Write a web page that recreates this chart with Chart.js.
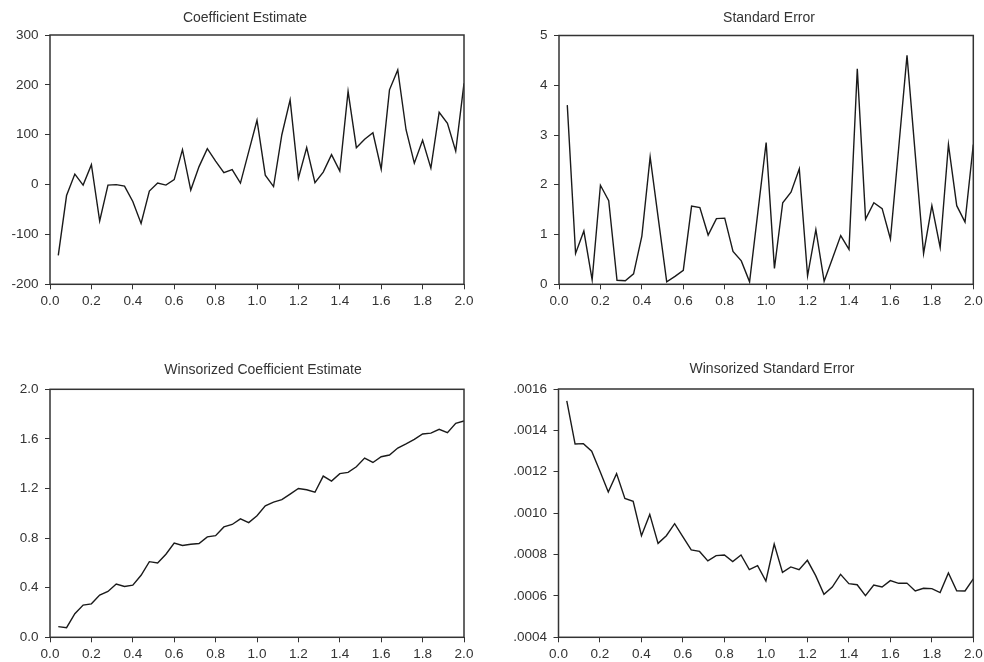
<!DOCTYPE html>
<html>
<head>
<meta charset="utf-8">
<script src="https://cdn.jsdelivr.net/npm/chart.js@4.4.0/dist/chart.umd.min.js"></script>
<style>
  body { margin: 0; background: #fff; overflow: hidden; width: 984px; height: 662px; position: relative; }
  canvas { position: absolute; }
</style>
</head>
<body>
<canvas id="c1" width="492" height="331" style="left:0;top:0"></canvas>
<canvas id="c2" width="520" height="331" style="left:492px;top:0"></canvas>
<canvas id="c3" width="492" height="331" style="left:0;top:331px"></canvas>
<canvas id="c4" width="520" height="331" style="left:492px;top:331px"></canvas>
<script>
// x positions (threshold) shared by all four panels
const xValues = [0.04, 0.08, 0.12, 0.16, 0.20, 0.24, 0.28, 0.32, 0.36, 0.40,
                 0.44, 0.48, 0.52, 0.56, 0.60, 0.64, 0.68, 0.72, 0.76, 0.80,
                 0.84, 0.88, 0.92, 0.96, 1.00, 1.04, 1.08, 1.12, 1.16, 1.20,
                 1.24, 1.28, 1.32, 1.36, 1.40, 1.44, 1.48, 1.52, 1.56, 1.60,
                 1.64, 1.68, 1.72, 1.76, 1.80, 1.84, 1.88, 1.92, 1.96, 2.00];

const coefEstimate = [-142, -22, 21, -1, 40, -73, -1, 0, -3, -34,
                      -78, -13, 3, -1, 10, 70, -11, 36, 72, 47,
                      24, 30, 3, 66, 129, 19, -4, 100, 170, 13,
                      74, 4, 25, 60, 27, 187, 74, 91, 104, 31,
                      190, 230, 110, 43, 89, 33, 145, 123, 67, 203];

const stdError = [3.60, 0.62, 1.07, 0.09, 1.99, 1.68, 0.08, 0.07, 0.21, 0.97,
                  2.56, 1.30, 0.05, 0.16, 0.28, 1.57, 1.54, 0.99, 1.32, 1.33,
                  0.66, 0.47, 0.05, 1.45, 2.85, 0.32, 1.64, 1.85, 2.32, 0.17,
                  1.10, 0.06, 0.52, 0.98, 0.70, 4.33, 1.31, 1.64, 1.52, 0.91,
                  2.75, 4.60, 2.60, 0.62, 1.58, 0.74, 2.81, 1.58, 1.25, 2.81];

const winCoef = [0.086, 0.078, 0.19, 0.26, 0.27, 0.34, 0.37, 0.43, 0.41, 0.42,
                 0.50, 0.61, 0.60, 0.67, 0.76, 0.74, 0.75, 0.756, 0.81, 0.82,
                 0.89, 0.91, 0.955, 0.925, 0.98, 1.06, 1.09, 1.11, 1.155, 1.20,
                 1.19, 1.17, 1.30, 1.26, 1.32, 1.33, 1.375, 1.445, 1.41, 1.456,
                 1.47, 1.526, 1.56, 1.596, 1.64, 1.647, 1.677, 1.65, 1.725, 1.744];

const winStdErr = [0.001543, 0.001334, 0.001336, 0.001299, 0.001202, 0.001102, 0.001191, 0.001071, 0.001057, 0.000891,
                   0.000994, 0.000854, 0.000891, 0.000949, 0.000885, 0.000822, 0.000815, 0.000769, 0.000795, 0.000798,
                   0.000766, 0.000798, 0.000727, 0.000746, 0.000672, 0.000851, 0.000714, 0.000740, 0.000727, 0.000772,
                   0.000698, 0.000608, 0.000643, 0.000704, 0.000659, 0.000654, 0.000601, 0.000653, 0.000643, 0.000674,
                   0.000661, 0.000662, 0.000624, 0.000637, 0.000635, 0.000616, 0.000711, 0.000625, 0.000624, 0.000682];

const textColor = '#333';
const fontFamily = '"Liberation Sans", Arial, sans-serif';

// draws the panel title and the box around the plot area
const panelDecor = {
    id: 'panelDecor',
    afterDatasetsDraw(chart, args, opts) {
        const ctx = chart.ctx;
        const a = chart.chartArea;
        ctx.save();
        ctx.strokeStyle = '#333';
        ctx.lineWidth = 1.5;
        ctx.strokeRect(a.left, a.top, a.right - a.left, a.bottom - a.top);
        ctx.fillStyle = textColor;
        ctx.font = '14px ' + fontFamily;
        ctx.textAlign = 'center';
        ctx.textBaseline = 'middle';
        ctx.fillText(opts.text, opts.x, opts.y);
        ctx.restore();
    }
};

function makePanel(id, title, values, yMin, yMax, yStep, yFormat, box) {
    const canvas = document.getElementById(id);
    const W = canvas.width, H = canvas.height;
    const tickFont = { family: fontFamily, size: 13.5 };

    return new Chart(canvas, {
        type: 'line',
        data: {
            datasets: [{
                data: xValues.map((x, i) => ({ x: x, y: values[i] })),
                borderColor: '#1a1a1a',
                borderWidth: 1.4,
                pointRadius: 0,
                tension: 0,
                fill: false
            }]
        },
        options: {
            responsive: false,
            animation: false,
            layout: { padding: { left: 0, top: box.top, right: W - box.right, bottom: 0 } },
            plugins: {
                legend: { display: false },
                tooltip: { enabled: false },
                panelDecor: { text: title, x: box.titleX, y: box.titleY }
            },
            scales: {
                x: {
                    type: 'linear',
                    min: 0, max: 2,
                    border: { display: false },
                    grid: { drawOnChartArea: false, drawTicks: true, tickLength: 5, color: '#333' },
                    ticks: { stepSize: 0.2, color: textColor, font: tickFont, padding: 4, maxRotation: 0,
                             callback: v => v.toFixed(1) },
                    afterFit: s => { s.height = H - box.bottom; }
                },
                y: {
                    min: yMin, max: yMax,
                    border: { display: false },
                    grid: { drawOnChartArea: false, drawTicks: true, tickLength: 5, color: '#333' },
                    ticks: { stepSize: yStep, color: textColor, font: tickFont, padding: 6.5,
                             callback: yFormat },
                    afterFit: s => { s.width = box.left; }
                }
            }
        },
        plugins: [panelDecor]
    });
}

const fmtInt = v => String(Math.round(v));
const fmtOne = v => v.toFixed(1);
const fmtSmall = v => v.toFixed(4).replace(/^0/, '');

makePanel('c1', 'Coefficient Estimate', coefEstimate, -200, 300, 100, fmtInt,
          { left: 50, right: 464, top: 35, bottom: 284.3, titleX: 245, titleY: 18 });
makePanel('c2', 'Standard Error', stdError, 0, 5, 1, fmtInt,
          { left: 67, right: 481.3, top: 35.5, bottom: 284.3, titleX: 277, titleY: 18 });
makePanel('c3', 'Winsorized Coefficient Estimate', winCoef, 0, 2, 0.4, fmtOne,
          { left: 50, right: 464, top: 58.3, bottom: 306.3, titleX: 263, titleY: 38.7 });
makePanel('c4', 'Winsorized Standard Error', winStdErr, 0.0004, 0.0016, 0.0002, fmtSmall,
          { left: 66.5, right: 481.3, top: 58, bottom: 306.3, titleX: 280, titleY: 38.5 });
</script>
</body>
</html>
